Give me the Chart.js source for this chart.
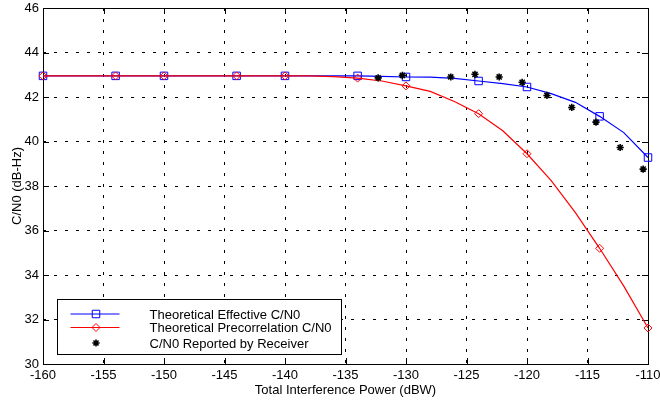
<!DOCTYPE html>
<html>
<head>
<meta charset="utf-8">
<script src="https://cdn.jsdelivr.net/npm/chart.js@4.4.0/dist/chart.umd.min.js"></script>
<style>
  html, body { margin: 0; padding: 0; background: #fff; }
  #wrap { width: 660px; height: 402px; }
</style>
</head>
<body>
<div id="wrap"><canvas id="cn0-chart"></canvas></div>
<script>
// Interference power sweep (dBW) used for both theoretical curves
const interferencePower = [-160, -158, -156, -154, -152, -150, -148, -146, -144, -142, -140, -138, -136,
                           -134, -132, -130, -128, -126, -124, -122, -120, -118, -116, -114, -112, -110];
const effectiveCN0 = [42.95, 42.95, 42.95, 42.95, 42.95, 42.95, 42.95, 42.95, 42.95, 42.95, 42.95, 42.95, 42.95,
                      42.95, 42.93, 42.9, 42.89, 42.84, 42.72, 42.6, 42.45, 42.15, 41.76, 41.13, 40.4, 39.28];
const precorrelationCN0 = [42.95, 42.95, 42.95, 42.95, 42.95, 42.95, 42.95, 42.95, 42.95, 42.95, 42.95, 42.95, 42.92,
                           42.85, 42.72, 42.5, 42.25, 41.8, 41.25, 40.48, 39.45, 38.24, 36.8, 35.2, 33.5, 31.62];
// where the markers sit on the theoretical curves
const markerPower = [-160, -154, -150, -144, -140, -134, -130, -124, -120, -114, -110];

// measured by the receiver
const receiverPower = [-132.3, -130.3, -126.3, -124.3, -122.3, -120.4, -118.35, -116.3, -114.3, -112.3, -110.4];
const receiverCN0 = [42.86, 42.97, 42.9, 43.02, 42.9, 42.66, 42.07, 41.53, 40.87, 39.73, 38.76];

const xTicks = [-160, -155, -150, -145, -140, -135, -130, -125, -120, -115, -110];
const yTicks = [30, 32, 34, 36, 38, 40, 42, 44, 46];

const seriesLabels = ['Theoretical Effective C/N0', 'Theoretical Precorrelation C/N0', 'C/N0 Reported by Receiver'];

function toPoints(xs, ys) {
    let pts = [];
    for(let i = 0; i < xs.length; i++) {
        pts.push({ x: xs[i], y: ys[i] });
    }
    return pts;
}

function markerRadius(size) {
    return function(ctx) {
        let x = interferencePower[ctx.dataIndex];
        return markerPower.includes(x) ? size : 0;
    };
}

// MATLAB style box with inward tick marks
const frameTicks = {
    id: 'frameTicks',
    beforeDatasetsDraw(chart) {
        let ctx = chart.ctx;
        let a = chart.chartArea;
        let xs = chart.scales.x, ys = chart.scales.y;
        let len = 6;
        ctx.save();
        ctx.strokeStyle = '#000';
        ctx.lineWidth = 1;
        ctx.beginPath();
        xTicks.forEach(v => {
            let px = Math.round(xs.getPixelForValue(v)) + 0.5;
            ctx.moveTo(px, a.bottom); ctx.lineTo(px, a.bottom - len);
            ctx.moveTo(px, a.top); ctx.lineTo(px, a.top + len);
        });
        yTicks.forEach(v => {
            let py = Math.round(ys.getPixelForValue(v)) + 0.5;
            ctx.moveTo(a.left, py); ctx.lineTo(a.left + len, py);
            ctx.moveTo(a.right, py); ctx.lineTo(a.right - len, py);
        });
        ctx.stroke();
        ctx.strokeRect(Math.round(a.left) + 0.5, Math.round(a.top) + 0.5,
                       Math.round(a.right - a.left), Math.round(a.bottom - a.top));
        ctx.restore();
    }
};

// legend box with line + marker samples
const boxedLegend = {
    id: 'boxedLegend',
    afterDraw(chart) {
        let ctx = chart.ctx;
        let a = chart.chartArea;
        let left = Math.round(a.left + 14) + 0.5;
        let top = Math.round(a.bottom - 65) + 0.5;
        let w = 284, h = 55;
        let rows = [14.5, 28, 43.5];
        ctx.save();
        ctx.fillStyle = '#fff';
        ctx.fillRect(left, top, w, h);
        ctx.strokeStyle = '#000';
        ctx.lineWidth = 1;
        ctx.strokeRect(left, top, w, h);
        ctx.font = '13px "Liberation Sans", Arial, sans-serif';
        ctx.textBaseline = 'middle';
        chart.data.datasets.forEach((ds, i) => {
            let y = top + rows[i];
            if(ds.showLine !== false) {
                ctx.strokeStyle = ds.borderColor;
                ctx.lineWidth = ds.borderWidth;
                ctx.beginPath();
                ctx.moveTo(left + 13, y);
                ctx.lineTo(left + 62, y);
                ctx.stroke();
            }
            ctx.strokeStyle = ds.pointBorderColor;
            ctx.fillStyle = 'rgba(0,0,0,0)';
            ctx.lineWidth = ds.pointBorderWidth;
            Chart.helpers.drawPoint(ctx, {
                pointStyle: ds.pointStyle,
                radius: ds.legendRadius,
                rotation: 0,
                borderWidth: ds.pointBorderWidth
            }, left + 38.5, y);
            ctx.fillStyle = '#000';
            ctx.fillText(ds.label, left + 92, y + 1);
        });
        ctx.restore();
    }
};

function edgeColor(min, max) {
    return function(ctx) {
        let v = ctx.tick ? ctx.tick.value : null;
        return (v === min || v === max) ? 'rgba(0,0,0,0)' : '#000';
    };
}

function createChart() {
    Chart.defaults.font.family = '"Liberation Sans", Arial, Helvetica, sans-serif';
    Chart.defaults.font.size = 13;
    Chart.defaults.color = '#000';

    let ctx = document.getElementById('cn0-chart').getContext('2d');
    new Chart(ctx, {
        type: 'line',
        data: {
            datasets: [{
                label: seriesLabels[0],
                data: toPoints(interferencePower, effectiveCN0),
                borderColor: '#0000ff',
                borderWidth: 1.2,
                pointStyle: 'rect',
                pointRadius: markerRadius(5.3),
                legendRadius: 5.3,
                pointBorderColor: '#0000ff',
                pointBackgroundColor: 'rgba(0,0,0,0)',
                pointBorderWidth: 1,
                tension: 0,
                clip: false,
                order: 2
            }, {
                label: seriesLabels[1],
                data: toPoints(interferencePower, precorrelationCN0),
                borderColor: '#ff0000',
                borderWidth: 1.2,
                pointStyle: 'rectRot',
                pointRadius: markerRadius(4),
                legendRadius: 4,
                pointBorderColor: '#ff0000',
                pointBackgroundColor: 'rgba(0,0,0,0)',
                pointBorderWidth: 1,
                tension: 0,
                clip: false,
                order: 1
            }, {
                label: seriesLabels[2],
                data: toPoints(receiverPower, receiverCN0),
                showLine: false,
                borderColor: '#000',
                pointStyle: 'star',
                pointRadius: 3.6,
                legendRadius: 3.6,
                pointBorderColor: '#000',
                pointBorderWidth: 1.6,
                clip: false,
                order: 0
            }]
        },
        options: {
            responsive: false,
            animation: false,
            events: [],
            layout: { padding: { top: 8, right: 12, left: 0, bottom: 0 } },
            plugins: {
                legend: { display: false },
                tooltip: { enabled: false }
            },
            scales: {
                x: {
                    type: 'linear',
                    min: -160,
                    max: -110,
                    afterBuildTicks: scale => { scale.ticks = xTicks.map(v => ({ value: v })); },
                    afterFit: scale => {
                        scale.height = 38;
                        scale.paddingLeft = 0;
                        scale.paddingRight = 0;
                    },
                    grid: { color: edgeColor(-160, -110), lineWidth: 1, drawTicks: false },
                    border: { display: false, dash: [3, 8] },
                    ticks: { padding: 4, maxRotation: 0, autoSkip: false },
                    title: {
                        display: true,
                        text: 'Total Interference Power (dBW)',
                        padding: { top: 0, bottom: 4 }
                    }
                },
                y: {
                    min: 30,
                    max: 46,
                    afterBuildTicks: scale => { scale.ticks = yTicks.map(v => ({ value: v })); },
                    afterFit: scale => {
                        scale.width = 43;
                        scale.paddingTop = 0;
                        scale.paddingBottom = 0;
                    },
                    grid: { color: edgeColor(30, 46), lineWidth: 1, drawTicks: false },
                    border: { display: false, dash: [3, 8] },
                    ticks: { padding: 4, autoSkip: false },
                    title: {
                        display: true,
                        text: 'C/N0 (dB-Hz)',
                        padding: { top: 10, bottom: 0 }
                    }
                }
            }
        },
        plugins: [frameTicks, boxedLegend]
    });
}

let canvas = document.getElementById('cn0-chart');
canvas.width = 660;
canvas.height = 402;
createChart();
</script>
</body>
</html>
